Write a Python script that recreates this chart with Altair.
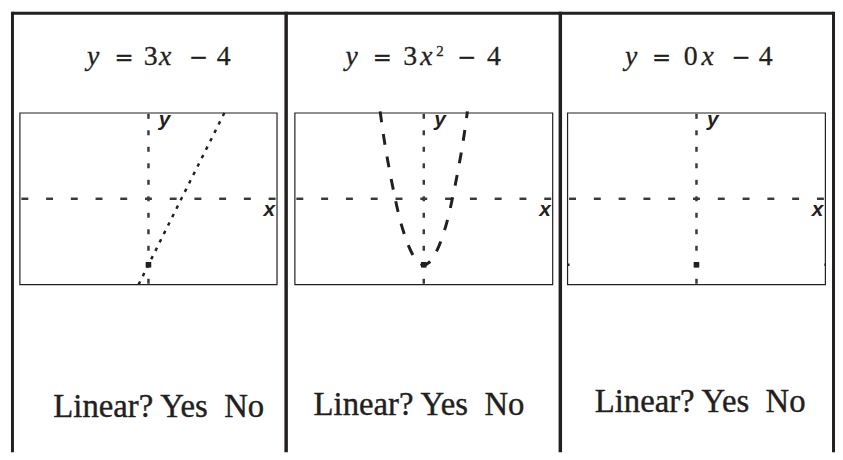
import altair as alt
import pandas as pd

# ---------------- data ----------------
WIN = [-5.2, 5.2]                      # calculator window, both axes
X_TICKS = [-5, -4, -3, -2, -1, 0, 1, 2, 3, 4, 5]
Y_TICKS = [-5, -4, -3, -2, -1, 0, 1, 2, 3, 4, 5]

TITLE_TEXT = [
    ["y", "=", "3", "x", "−", "4"],
    ["y", "=", "3", "x", "2", "−", "4"],
    ["y", "=", "0", "x", "−", "4"],
]
QUESTION = "Linear? Yes\u00a0\u00a0No"
AXIS_NAMES = ["x", "y"]

# y = 3x - 4
LIN_X = [-0.40, 0.0, 1.33, 3.07]
LIN_Y = [-5.2, -4.0, 0.0, 5.2]
# y = 3x^2 - 4
PAR_X = [-1.76, -1.62, -1.38, -1.18, -1.02, -0.74, -0.46, -0.22, 0.0,
         0.22, 0.46, 0.74, 1.02, 1.18, 1.38, 1.62, 1.76]
PAR_Y = [5.3, 3.8, 1.7, 0.2, -0.9, -2.35, -3.35, -3.85, -4.0,
         -3.85, -3.35, -2.35, -0.9, 0.2, 1.7, 3.8, 5.3]
# y = 0x - 4
FLAT_X = [-5.2, 0.0, 5.2]
FLAT_Y = [-4.0, -4.0, -4.0]
INTERCEPT_Y = -4.0

# ---------------- layout / style ----------------
INK = "#231f20"
AX = "#3a3a3a"
H = 444
PANEL_W = [280, 277, 277]
BOX_RANGE_X = [[12.0, 271.3], [9.3, 269.3], [7.3, 267.3]]
BOX_RANGE_Y = [275.0, 102.0]
SERIF = "Liberation Serif"
OPS = "DejaVu Serif"
# (center x, font, italic?, size, baseline y) for each title piece
L = 28   # letters / digits
O = 23   # operators
TITLE_LAYOUT = [
    [(86, SERIF, True, L, 54), (117, OPS, False, O, 54), (144, SERIF, False, L, 54),
     (158.5, SERIF, True, L, 54), (192, OPS, False, O, 54), (217.5, SERIF, False, L, 54)],
    [(66.5, SERIF, True, L, 54), (97.5, OPS, False, O, 54), (125.5, SERIF, False, L, 54),
     (142, SERIF, True, L, 54), (155.5, SERIF, False, 15, 45), (182.5, OPS, False, O, 54),
     (210, SERIF, False, L, 54)],
    [(71.5, SERIF, True, L, 54), (102, OPS, False, O, 54), (131.5, SERIF, False, L, 54),
     (148.5, SERIF, True, L, 54), (182, OPS, False, O, 54), (207, SERIF, False, L, 54)],
]
QUESTION_POS = [(152, 409), (134.5, 407), (141, 404)]

ONE = pd.DataFrame({"k": [0]})


def txt(s, x, y, size, italic=False, font=SERIF, align="center", sw=0.3):
    return alt.Chart(ONE).mark_text(
        text=s, font=font, fontSize=size,
        fontStyle="italic" if italic else "normal",
        align=align, baseline="alphabetic", color=INK,
        stroke=INK, strokeWidth=sw,
    ).encode(x=alt.value(x), y=alt.value(y))


def vrule(x, y0, y1, w):
    return alt.Chart(ONE).mark_rule(color=INK, strokeWidth=w).encode(
        x=alt.value(x), y=alt.value(y0), y2=alt.value(y1))


def hrule(x0, x1, y, w):
    return alt.Chart(ONE).mark_rule(color=INK, strokeWidth=w).encode(
        x=alt.value(x0), x2=alt.value(x1), y=alt.value(y))


def panel(i, curve_x, curve_y, curve_style):
    xs = alt.Scale(domain=WIN, range=BOX_RANGE_X[i], nice=False, zero=False)
    ys = alt.Scale(domain=WIN, range=BOX_RANGE_Y, nice=False, zero=False)

    layers = []
    # table borders
    w = PANEL_W[i]
    if i == 0:
        layers += [vrule(4.5, 0, H, 3), hrule(4.5, w, 1.5, 3)]
    elif i == 1:
        layers += [vrule(0.5, 0, H, 3.5), hrule(0, w, 1.5, 3)]
    else:
        layers += [vrule(0, 0, H, 3.5), vrule(275.5, 0, H, 3), hrule(0, 275.5, 1.5, 3)]

    # screen box
    box = alt.Chart(pd.DataFrame({"a": [WIN[0]], "b": [WIN[1]]})).mark_rect(
        fillOpacity=0, stroke=INK, strokeWidth=1.2
    ).encode(
        x=alt.X("a:Q", scale=xs, axis=None), x2="b:Q",
        y=alt.Y("a:Q", scale=ys, axis=None), y2="b:Q",
    )
    layers.append(box)

    # dashed x axis
    xt = alt.Chart(pd.DataFrame({"t": X_TICKS})).transform_calculate(
        a="datum.t - 0.14", b="datum.t + 0.14", z="0"
    ).mark_rule(color=AX, strokeWidth=2.5).encode(
        x=alt.X("a:Q", scale=xs, axis=None), x2="b:Q",
        y=alt.Y("z:Q", scale=ys, axis=None),
    )
    # dashed y axis
    yt = alt.Chart(pd.DataFrame({"t": Y_TICKS})).transform_calculate(
        a="datum.t - 0.15", b="datum.t + 0.15", z="0"
    ).mark_rule(color=AX, strokeWidth=2.5).encode(
        y=alt.Y("a:Q", scale=ys, axis=None), y2="b:Q",
        x=alt.X("z:Q", scale=xs, axis=None),
    )
    layers += [xt, yt]

    # the graph
    curve = alt.Chart(pd.DataFrame({"x": curve_x, "y": curve_y})).mark_line(
        color=INK, clip=True, **curve_style
    ).encode(
        x=alt.X("x:Q", scale=xs, axis=None),
        y=alt.Y("y:Q", scale=ys, axis=None),
    )
    layers.append(curve)

    # y-intercept blob
    icpt = alt.Chart(pd.DataFrame({"x": [0.0], "y": [INTERCEPT_Y]})).mark_square(
        size=32, color=INK, opacity=1
    ).encode(
        x=alt.X("x:Q", scale=xs, axis=None),
        y=alt.Y("y:Q", scale=ys, axis=None),
    )
    layers.append(icpt)

    # axis names
    names = pd.DataFrame({"n": AXIS_NAMES, "x": [5.12, 0.42], "y": [-1.05, 4.4]})
    for name, al in zip(AXIS_NAMES, ["right", "left"]):
        layers.append(
            alt.Chart(names).transform_filter(f"datum.n == '{name}'").mark_text(
                font="Liberation Sans", fontSize=21, fontStyle="italic",
                fontWeight="bold", baseline="alphabetic", color=INK, align=al
            ).encode(
                x=alt.X("x:Q", scale=xs, axis=None),
                y=alt.Y("y:Q", scale=ys, axis=None),
                text="n:N",
            )
        )

    # title pieces
    for s, (cx, fnt, it, sz, by) in zip(TITLE_TEXT[i], TITLE_LAYOUT[i]):
        layers.append(txt(s, cx, by, sz, italic=it, font=fnt))

    # question
    qx, qy = QUESTION_POS[i]
    layers.append(txt(QUESTION, qx, qy, 33, sw=0.4))

    return alt.layer(*layers).properties(width=PANEL_W[i], height=H)


p1 = panel(0, LIN_X, LIN_Y, dict(strokeWidth=2.5, strokeDash=[3.5, 6]))
p2 = panel(1, PAR_X, PAR_Y, dict(strokeWidth=3, strokeDash=[11, 12], interpolate="monotone"))
p3 = panel(2, FLAT_X, FLAT_Y, dict(strokeWidth=2.5, strokeDash=[2, 127.5]))

chart = alt.hconcat(p1, p2, p3, spacing=0, bounds="flush").resolve_scale(
    x="independent", y="independent"
).properties(padding=0, background="white").configure_view(strokeOpacity=0)

chart.save("out.html", embed_options={"renderer": "svg", "actions": False})
